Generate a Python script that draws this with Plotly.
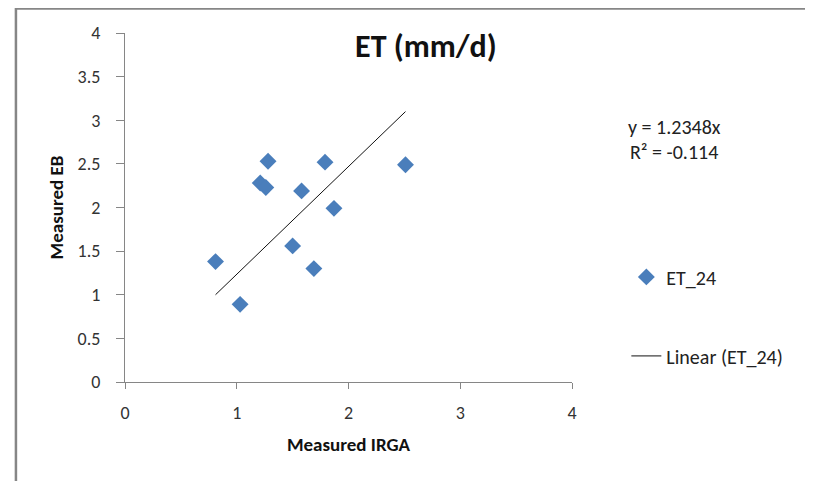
import plotly.graph_objects as go

# ---- data ----
irga = [1.28, 1.79, 2.51, 1.21, 1.26, 1.58, 1.87, 1.50, 0.81, 1.69, 1.03]
eb = [2.53, 2.52, 2.49, 2.28, 2.23, 2.19, 1.99, 1.56, 1.38, 1.30, 0.89]
slope = 1.2348
r2_label = "-0.114"
series_name = "ET_24"
x_ticks = [0, 1, 2, 3, 4]
y_ticks = [0, 0.5, 1, 1.5, 2, 2.5, 3, 3.5, 4]

FONT = "Carlito, Calibri, Lato, sans-serif"
AXC = "#868686"

trend_x = [min(irga), max(irga)]
trend_y = [slope * v for v in trend_x]

fig = go.Figure()
fig.add_trace(go.Scatter(
    x=irga, y=eb, mode="markers", name=series_name, legendgroup="a",
    marker=dict(symbol="diamond", size=13, color="#4a7ebb", line=dict(width=0)),
))
fig.add_trace(go.Scatter(
    x=trend_x, y=trend_y, mode="lines", name=f"Linear ({series_name})", legendgroup="b",
    line=dict(color="#111111", width=1),
))

fig.update_layout(
    width=813, height=481,
    margin=dict(l=117, r=249, t=24.5, b=107),
    paper_bgcolor="white", plot_bgcolor="white",
    font=dict(family=FONT, size=18, color="#222222"),
    title=dict(text="<b>ET (mm/d)</b>", x=0.514, xref="container", xanchor="center",
               y=0.921, yref="container", yanchor="middle",
               font=dict(family=FONT, size=32, color="#111111")),
    xaxis=dict(range=[0, 4], tickvals=x_ticks, showgrid=False, zeroline=False,
               showline=True, linecolor=AXC, linewidth=1, ticks="outside",
               ticklen=6, tickcolor=AXC, tickfont=dict(size=18, color="#333333"),
               ticklabelstandoff=8, automargin=False,
               title=dict(text="<b>Measured IRGA</b>", font=dict(size=19, color="#111111"), standoff=15)),
    yaxis=dict(range=[0, 4], tickvals=y_ticks, showgrid=False, zeroline=False,
               showline=True, linecolor=AXC, linewidth=1, ticks="outside",
               ticklen=8, tickcolor=AXC, tickfont=dict(size=18, color="#333333"),
               ticklabelstandoff=12, automargin=False,
               title=dict(text="<b>Measured EB</b>", font=dict(size=19, color="#111111"), standoff=8)),
    legend=dict(x=1.1216, xanchor="left", y=0.357, yanchor="top", tracegroupgap=50,
                bgcolor="rgba(0,0,0,0)", font=dict(size=20, color="#222222")),
    showlegend=True,
)

fig.add_annotation(text=f"y = {slope}x", xref="paper", yref="paper", x=1.229, y=0.73,
                   showarrow=False, xanchor="center", yanchor="middle",
                   font=dict(size=20, color="#222222"))
fig.add_annotation(text=f"R² = {r2_label}", xref="paper", yref="paper", x=1.229, y=0.658,
                   showarrow=False, xanchor="center", yanchor="middle",
                   font=dict(size=20, color="#222222"))

# outer chart border
fig.add_shape(type="rect", xref="paper", yref="paper", x0=-0.244, x1=1.531, y0=-0.4, y1=1.07,
              line=dict(color=AXC, width=2.5), layer="below")

fig.write_html("out.html")
